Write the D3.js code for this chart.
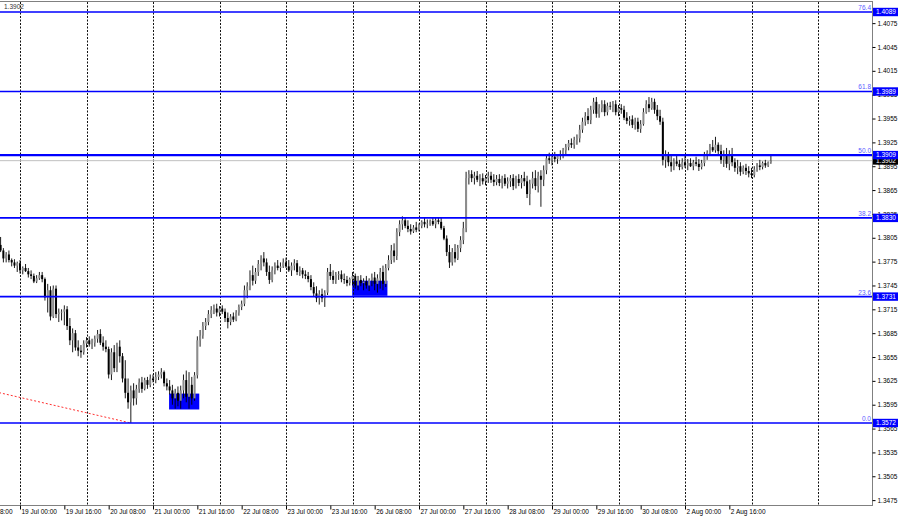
<!DOCTYPE html>
<html><head><meta charset="utf-8">
<script src="https://cdn.jsdelivr.net/npm/d3@7"></script>
<style>
html,body{margin:0;padding:0;background:#fff;}
svg{display:block;font-family:"Liberation Sans",Arial,sans-serif;}
</style></head><body>
<svg id="chart" width="900" height="519"></svg>
<script>
// ---- DATA (hourly bars, bar 0 = 19 Jul 00:00) ----
const firstBar = -7;
const opens = [
1.3796,1.3789,1.3779,1.3784,1.3777,1.3774,1.3770,1.3773,1.3764,1.3767,
1.3763,1.3759,1.3757,1.3750,1.3754,1.3758,1.3753,1.3730,1.3739,1.3706,
1.3741,1.3709,1.3711,1.3712,1.3715,1.3694,1.3676,1.3685,1.3667,1.3663,
1.3661,1.3672,1.3676,1.3671,1.3673,1.3678,1.3684,1.3673,1.3668,1.3665,
1.3633,1.3661,1.3641,1.3668,1.3656,1.3628,1.3610,1.3598,1.3613,1.3603,
1.3615,1.3623,1.3615,1.3626,1.3620,1.3628,1.3626,1.3630,1.3633,1.3636,
1.3622,1.3618,1.3613,1.3603,1.3610,1.3600,1.3613,1.3626,1.3605,1.3620,
1.3603,1.3632,1.3676,1.3682,1.3694,1.3699,1.3709,1.3714,1.3716,1.3711,
1.3716,1.3712,1.3704,1.3699,1.3706,1.3702,1.3711,1.3718,1.3722,1.3739,
1.3744,1.3758,1.3751,1.3762,1.3772,1.3779,1.3774,1.3762,1.3752,1.3764,
1.3770,1.3767,1.3769,1.3774,1.3769,1.3764,1.3770,1.3773,1.3762,1.3764,
1.3759,1.3757,1.3753,1.3743,1.3735,1.3729,1.3734,1.3729,1.3736,1.3762,
1.3757,1.3752,1.3758,1.3759,1.3753,1.3752,1.3748,1.3753,1.3757,1.3745,
1.3752,1.3748,1.3750,1.3745,1.3752,1.3755,1.3747,1.3754,1.3762,1.3747,
1.3767,1.3777,1.3789,1.3782,1.3812,1.3822,1.3827,1.3820,1.3816,1.3813,
1.3818,1.3815,1.3820,1.3825,1.3822,1.3823,1.3826,1.3822,1.3827,1.3825,
1.3817,1.3804,1.3787,1.3774,1.3787,1.3779,1.3792,1.3802,1.3817,1.3880,
1.3885,1.3880,1.3883,1.3878,1.3880,1.3876,1.3880,1.3883,1.3878,1.3875,
1.3879,1.3874,1.3880,1.3873,1.3876,1.3880,1.3870,1.3879,1.3874,1.3880,
1.3876,1.3860,1.3873,1.3880,1.3870,1.3883,1.3878,1.3890,1.3905,1.3903,
1.3907,1.3904,1.3908,1.3910,1.3915,1.3919,1.3924,1.3922,1.3928,1.3930,
1.3941,1.3951,1.3958,1.3953,1.3966,1.3976,1.3961,1.3968,1.3973,1.3963,
1.3971,1.3970,1.3973,1.3963,1.3968,1.3966,1.3956,1.3952,1.3954,1.3947,
1.3951,1.3942,1.3948,1.3963,1.3973,1.3968,1.3976,1.3966,1.3958,1.3951,
1.3903,1.3908,1.3900,1.3895,1.3901,1.3898,1.3894,1.3900,1.3896,1.3899,
1.3895,1.3900,1.3898,1.3894,1.3899,1.3908,1.3912,1.3919,1.3915,1.3922,
1.3914,1.3903,1.3909,1.3898,1.3910,1.3900,1.3893,1.3895,1.3888,1.3893,
1.3889,1.3886,1.3884,1.3891,1.3896,1.3894,1.3899,1.3896,1.3900];
const highs = [
1.3806,1.3792,1.3787,1.3789,1.3779,1.3778,1.3775,1.3777,1.3769,1.3772,
1.3767,1.3764,1.3760,1.3758,1.3762,1.3762,1.3755,1.3747,1.3744,1.3745,
1.3745,1.3716,1.3715,1.3720,1.3719,1.3704,1.3691,1.3689,1.3676,1.3670,
1.3676,1.3680,1.3681,1.3678,1.3682,1.3689,1.3690,1.3681,1.3676,1.3668,
1.3666,1.3670,1.3673,1.3676,1.3660,1.3651,1.3628,1.3619,1.3622,1.3620,
1.3628,1.3630,1.3629,1.3630,1.3633,1.3633,1.3636,1.3637,1.3641,1.3638,
1.3628,1.3626,1.3620,1.3615,1.3618,1.3619,1.3633,1.3638,1.3636,1.3630,
1.3636,1.3681,1.3689,1.3699,1.3704,1.3714,1.3719,1.3721,1.3722,1.3719,
1.3720,1.3716,1.3711,1.3709,1.3711,1.3714,1.3721,1.3726,1.3745,1.3749,
1.3764,1.3770,1.3767,1.3777,1.3783,1.3787,1.3779,1.3770,1.3769,1.3774,
1.3777,1.3774,1.3779,1.3780,1.3777,1.3774,1.3778,1.3777,1.3769,1.3767,
1.3764,1.3762,1.3758,1.3749,1.3744,1.3739,1.3741,1.3739,1.3767,1.3772,
1.3764,1.3762,1.3763,1.3764,1.3760,1.3757,1.3755,1.3762,1.3760,1.3757,
1.3758,1.3754,1.3757,1.3754,1.3760,1.3762,1.3759,1.3767,1.3770,1.3772,
1.3783,1.3796,1.3798,1.3817,1.3827,1.3832,1.3831,1.3827,1.3822,1.3821,
1.3825,1.3823,1.3827,1.3830,1.3828,1.3828,1.3831,1.3830,1.3831,1.3830,
1.3820,1.3808,1.3796,1.3792,1.3797,1.3796,1.3807,1.3825,1.3888,1.3890,
1.3890,1.3888,1.3889,1.3885,1.3886,1.3884,1.3888,1.3888,1.3885,1.3884,
1.3885,1.3883,1.3885,1.3881,1.3884,1.3885,1.3883,1.3885,1.3884,1.3888,
1.3883,1.3878,1.3888,1.3890,1.3888,1.3890,1.3896,1.3910,1.3912,1.3910,
1.3913,1.3910,1.3915,1.3918,1.3923,1.3928,1.3930,1.3932,1.3935,1.3947,
1.3956,1.3963,1.3968,1.3971,1.3981,1.3982,1.3973,1.3978,1.3978,1.3975,
1.3976,1.3977,1.3978,1.3972,1.3973,1.3971,1.3963,1.3958,1.3959,1.3956,
1.3956,1.3953,1.3968,1.3978,1.3982,1.3981,1.3980,1.3972,1.3966,1.3956,
1.3915,1.3913,1.3909,1.3905,1.3908,1.3903,1.3905,1.3908,1.3904,1.3905,
1.3903,1.3907,1.3904,1.3903,1.3913,1.3915,1.3923,1.3928,1.3932,1.3925,
1.3922,1.3915,1.3918,1.3915,1.3918,1.3905,1.3903,1.3900,1.3896,1.3898,
1.3895,1.3893,1.3895,1.3899,1.3903,1.3901,1.3903,1.3901,1.3908];
const lows = [
1.3787,1.3774,1.3774,1.3774,1.3769,1.3767,1.3762,1.3760,1.3759,1.3762,
1.3755,1.3753,1.3748,1.3748,1.3752,1.3749,1.3726,1.3711,1.3701,1.3704,
1.3704,1.3699,1.3701,1.3695,1.3689,1.3670,1.3661,1.3663,1.3656,1.3654,
1.3658,1.3667,1.3668,1.3665,1.3668,1.3673,1.3670,1.3663,1.3661,1.3628,
1.3626,1.3636,1.3636,1.3648,1.3623,1.3603,1.3590,1.3572,1.3594,1.3595,
1.3610,1.3610,1.3613,1.3615,1.3617,1.3623,1.3622,1.3626,1.3628,1.3618,
1.3613,1.3608,1.3595,1.3590,1.3593,1.3590,1.3603,1.3598,1.3590,1.3595,
1.3600,1.3628,1.3668,1.3678,1.3689,1.3695,1.3704,1.3709,1.3706,1.3706,
1.3709,1.3699,1.3691,1.3695,1.3699,1.3700,1.3707,1.3714,1.3719,1.3729,
1.3739,1.3745,1.3747,1.3757,1.3764,1.3769,1.3757,1.3747,1.3749,1.3759,
1.3764,1.3762,1.3767,1.3767,1.3762,1.3757,1.3764,1.3758,1.3757,1.3754,
1.3753,1.3749,1.3739,1.3731,1.3724,1.3721,1.3724,1.3718,1.3733,1.3752,
1.3747,1.3747,1.3752,1.3749,1.3747,1.3744,1.3745,1.3745,1.3741,1.3739,
1.3744,1.3739,1.3741,1.3738,1.3744,1.3739,1.3736,1.3741,1.3739,1.3743,
1.3764,1.3772,1.3774,1.3777,1.3807,1.3815,1.3817,1.3812,1.3809,1.3811,
1.3812,1.3813,1.3817,1.3818,1.3817,1.3820,1.3820,1.3817,1.3822,1.3815,
1.3802,1.3782,1.3767,1.3770,1.3774,1.3777,1.3787,1.3797,1.3812,1.3872,
1.3875,1.3872,1.3875,1.3870,1.3872,1.3871,1.3874,1.3874,1.3870,1.3871,
1.3870,1.3867,1.3870,1.3867,1.3869,1.3865,1.3867,1.3870,1.3867,1.3870,
1.3855,1.3846,1.3867,1.3865,1.3862,1.3844,1.3870,1.3885,1.3898,1.3896,
1.3900,1.3898,1.3903,1.3905,1.3910,1.3915,1.3918,1.3917,1.3922,1.3925,
1.3937,1.3946,1.3948,1.3948,1.3961,1.3956,1.3956,1.3963,1.3958,1.3959,
1.3966,1.3963,1.3959,1.3958,1.3961,1.3953,1.3948,1.3946,1.3943,1.3941,
1.3938,1.3937,1.3946,1.3961,1.3963,1.3966,1.3961,1.3953,1.3947,1.3896,
1.3893,1.3895,1.3888,1.3890,1.3895,1.3890,1.3891,1.3893,1.3890,1.3894,
1.3890,1.3895,1.3889,1.3891,1.3895,1.3903,1.3908,1.3913,1.3912,1.3910,
1.3898,1.3894,1.3893,1.3890,1.3895,1.3888,1.3885,1.3883,1.3885,1.3884,
1.3881,1.3880,1.3881,1.3888,1.3890,1.3891,1.3893,1.3894,1.3898];
const closes = [
1.3789,1.3779,1.3784,1.3777,1.3774,1.3770,1.3773,1.3764,1.3767,1.3763,
1.3759,1.3757,1.3750,1.3754,1.3758,1.3753,1.3730,1.3739,1.3706,1.3741,
1.3709,1.3711,1.3712,1.3715,1.3694,1.3676,1.3685,1.3667,1.3663,1.3661,
1.3672,1.3676,1.3671,1.3673,1.3678,1.3684,1.3673,1.3668,1.3665,1.3633,
1.3661,1.3641,1.3668,1.3656,1.3628,1.3610,1.3598,1.3613,1.3603,1.3615,
1.3623,1.3615,1.3626,1.3620,1.3628,1.3626,1.3630,1.3633,1.3636,1.3622,
1.3618,1.3613,1.3603,1.3610,1.3600,1.3613,1.3626,1.3605,1.3620,1.3603,
1.3632,1.3676,1.3682,1.3694,1.3699,1.3709,1.3714,1.3716,1.3711,1.3716,
1.3712,1.3704,1.3699,1.3706,1.3702,1.3711,1.3718,1.3722,1.3739,1.3744,
1.3758,1.3751,1.3762,1.3772,1.3779,1.3774,1.3762,1.3752,1.3764,1.3770,
1.3767,1.3769,1.3774,1.3769,1.3764,1.3770,1.3773,1.3762,1.3764,1.3759,
1.3757,1.3753,1.3743,1.3735,1.3729,1.3734,1.3729,1.3736,1.3762,1.3757,
1.3752,1.3758,1.3759,1.3753,1.3752,1.3748,1.3753,1.3757,1.3745,1.3752,
1.3748,1.3750,1.3745,1.3752,1.3755,1.3747,1.3754,1.3762,1.3747,1.3767,
1.3777,1.3789,1.3782,1.3812,1.3822,1.3827,1.3820,1.3816,1.3813,1.3818,
1.3815,1.3820,1.3825,1.3822,1.3823,1.3826,1.3822,1.3827,1.3825,1.3817,
1.3804,1.3787,1.3774,1.3787,1.3779,1.3792,1.3802,1.3817,1.3880,1.3885,
1.3880,1.3883,1.3878,1.3880,1.3876,1.3880,1.3883,1.3878,1.3875,1.3879,
1.3874,1.3880,1.3873,1.3876,1.3880,1.3870,1.3879,1.3874,1.3880,1.3876,
1.3860,1.3873,1.3880,1.3870,1.3883,1.3878,1.3890,1.3905,1.3903,1.3907,
1.3904,1.3908,1.3910,1.3915,1.3919,1.3924,1.3922,1.3928,1.3930,1.3941,
1.3951,1.3958,1.3953,1.3966,1.3976,1.3961,1.3968,1.3973,1.3963,1.3971,
1.3970,1.3973,1.3963,1.3968,1.3966,1.3956,1.3952,1.3954,1.3947,1.3951,
1.3942,1.3948,1.3963,1.3973,1.3968,1.3976,1.3966,1.3958,1.3951,1.3903,
1.3908,1.3900,1.3895,1.3901,1.3898,1.3894,1.3900,1.3896,1.3899,1.3895,
1.3900,1.3898,1.3894,1.3899,1.3908,1.3912,1.3919,1.3915,1.3922,1.3914,
1.3903,1.3909,1.3898,1.3910,1.3900,1.3893,1.3895,1.3888,1.3893,1.3889,
1.3886,1.3884,1.3891,1.3896,1.3894,1.3899,1.3896,1.3900,1.3902];

const priceTicks = [1.4075,1.4045,1.4015,1.3985,1.3955,1.3925,1.3895,1.3865,1.3835,1.3805,1.3775,
  1.3745,1.3715,1.3685,1.3655,1.3625,1.3595,1.3565,1.3535,1.3505,1.3475];
const dayStartBars = [0,24,48,72,96,120,144,168,192,216,240,264,288];
const timeLabelBars = [-16,0,16,32,48,64,80,96,112,128,144,160,176,192,208,224,240,256];
const timeLabels = ["16 Jul 08:00","19 Jul 00:00","19 Jul 16:00","20 Jul 08:00","21 Jul 00:00",
  "21 Jul 16:00","22 Jul 08:00","23 Jul 00:00","23 Jul 16:00","26 Jul 08:00","27 Jul 00:00",
  "27 Jul 16:00","28 Jul 08:00","29 Jul 00:00","29 Jul 16:00","30 Jul 08:00","2 Aug 00:00","2 Aug 16:00"];
const fibPercents = ["76.4","61.8","50.0","38.2","23.6","0.0"];
const fibPrices = [1.4089,1.3989,1.3909,1.3830,1.3731,1.3572];
const lastPrice = 1.3902;
const zoneStartBar = [53.8,119.9];
const zoneEndBar = [64.7,132.6];
const zoneTop = [1.3609,1.3751];
const zoneBottom = [1.3589,1.3732];
const trendBars = [-16,40];
const trendPrices = [1.3617,1.3572];

// ---- LAYOUT ----
const W = 900, H = 519;
const plotL = 0, plotR = 872, plotT = 2, plotB = 505;
const FS = 6.5;

const x = d3.scaleLinear().domain([0, 264]).range([20, 751.5]);
const y = d3.scaleLinear().domain([1.3572, 1.4089]).range([423, 12]);

const fmt = d3.format(".4f");
const svg = d3.select("#chart");
svg.append("rect").attr("width", W).attr("height", H).attr("fill", "#fff");

svg.append("clipPath").attr("id", "plotclip").append("rect")
  .attr("x", plotL).attr("y", plotT).attr("width", plotR - plotL).attr("height", plotB - plotT);
const plot = svg.append("g").attr("clip-path", "url(#plotclip)");

// zones (background)
plot.selectAll("rect.zone").data(zoneStartBar).join("rect").attr("class", "zone")
  .attr("x", (d) => x(d)).attr("width", (d, i) => x(zoneEndBar[i]) - x(d))
  .attr("y", (d, i) => y(zoneTop[i])).attr("height", (d, i) => y(zoneBottom[i]) - y(zoneTop[i]))
  .attr("fill", "#0000ff");

// vertical grid
plot.selectAll("line.grid").data(dayStartBars).join("line").attr("class", "grid")
  .attr("x1", (d) => Math.round(x(d)) + 0.5).attr("x2", (d) => Math.round(x(d)) + 0.5)
  .attr("y1", plotT).attr("y2", plotB)
  .attr("stroke", "#111").attr("stroke-width", 1).attr("stroke-dasharray", "2,1.5");

// last price line
plot.append("line").attr("x1", plotL).attr("x2", plotR)
  .attr("y1", y(lastPrice)).attr("y2", y(lastPrice))
  .attr("stroke", "#c0c0c0").attr("stroke-width", 1);

// candles
const bars = closes.map((c, i) => ({ i: firstBar + i, o: opens[i], h: highs[i], l: lows[i], c }));
const bw = (x(1) - x(0)) * 0.72;
plot.selectAll("line.wick").data(bars).join("line").attr("class", "wick")
  .attr("x1", (d) => x(d.i)).attr("x2", (d) => x(d.i))
  .attr("y1", (d) => y(d.h)).attr("y2", (d) => y(d.l))
  .attr("stroke", "#000").attr("stroke-width", 0.9);
plot.selectAll("rect.body").data(bars).join("rect").attr("class", "body")
  .attr("x", (d) => x(d.i) - bw / 2).attr("width", bw)
  .attr("y", (d) => y(Math.max(d.o, d.c)))
  .attr("height", (d) => Math.max(0.8, Math.abs(y(d.o) - y(d.c))))
  .attr("fill", (d) => (d.c >= d.o ? "#8c8c8c" : "#000"));

// trend line
plot.append("line")
  .attr("x1", x(trendBars[0])).attr("y1", y(trendPrices[0]))
  .attr("x2", x(trendBars[1])).attr("y2", y(trendPrices[1]))
  .attr("stroke", "#ff3030").attr("stroke-width", 1).attr("stroke-dasharray", "2,2");

// fib lines
plot.selectAll("line.fib").data(fibPrices).join("line").attr("class", "fib")
  .attr("x1", plotL).attr("x2", plotR)
  .attr("y1", (d) => y(d)).attr("y2", (d) => y(d))
  .attr("stroke", "#0000ff").attr("stroke-width", (d, i) => (i === 2 ? 2.4 : 1.6));
plot.selectAll("text.fibpct").data(fibPrices).join("text").attr("class", "fibpct")
  .attr("x", plotR - 1).attr("y", (d) => y(d) - 2)
  .attr("text-anchor", "end").attr("font-size", FS).attr("fill", "#5c5cff")
  .text((d, i) => fibPercents[i]);

// frame
svg.append("line").attr("x1", plotL).attr("x2", plotR).attr("y1", 1.5).attr("y2", 1.5)
  .attr("stroke", "#808080");
svg.append("line").attr("x1", plotL).attr("x2", plotR).attr("y1", plotB + 0.5).attr("y2", plotB + 0.5)
  .attr("stroke", "#808080");
svg.append("line").attr("x1", plotR + 0.5).attr("x2", plotR + 0.5).attr("y1", 1).attr("y2", plotB + 1)
  .attr("stroke", "#808080");

// right price axis
const ya = svg.append("g").attr("transform", `translate(${plotR + 0.5},0)`)
  .call(d3.axisRight(y).tickValues(priceTicks).tickSize(3).tickPadding(2).tickFormat(fmt));
ya.select(".domain").remove();
ya.selectAll("line").attr("stroke", "#000");
ya.selectAll("text").attr("font-size", FS).attr("font-family", "Liberation Sans, Arial, sans-serif")
  .attr("fill", "#000");

// last price box
const lp = svg.append("g");
lp.append("rect").attr("x", plotR + 1).attr("y", y(lastPrice) - 3.5).attr("width", 25).attr("height", 7.5)
  .attr("fill", "#000");
lp.append("text").attr("x", plotR + 4).attr("y", y(lastPrice)).attr("dy", "0.35em")
  .attr("font-size", FS).attr("fill", "#fff").text(fmt(lastPrice));

// fib price boxes
const fb = svg.selectAll("g.fibbox").data(fibPrices).join("g").attr("class", "fibbox");
fb.append("rect").attr("x", plotR + 1).attr("y", (d) => y(d) - 4.2).attr("width", 25).attr("height", 8.4)
  .attr("fill", "#0000ff");
fb.append("text").attr("x", plotR + 4).attr("y", (d) => y(d)).attr("dy", "0.35em")
  .attr("font-size", FS).attr("fill", "#fff").text((d) => fmt(d));

// bottom time axis
const xa = svg.append("g").attr("transform", `translate(0,${plotB + 0.5})`)
  .call(d3.axisBottom(x).tickValues(timeLabelBars).tickSize(4).tickPadding(1)
    .tickFormat((d, i) => timeLabels[i]));
xa.select(".domain").remove();
xa.selectAll("line").attr("stroke", "#000");
xa.selectAll("text").attr("text-anchor", "start").attr("x", 1).attr("y", 4).attr("dy", "0.71em")
  .attr("font-size", FS).attr("font-family", "Liberation Sans, Arial, sans-serif").attr("fill", "#000");

// top-left price
svg.append("text").attr("x", 4).attr("y", 9).attr("font-size", FS).attr("fill", "#333")
  .text(fmt(lastPrice));
</script>
</body></html>
